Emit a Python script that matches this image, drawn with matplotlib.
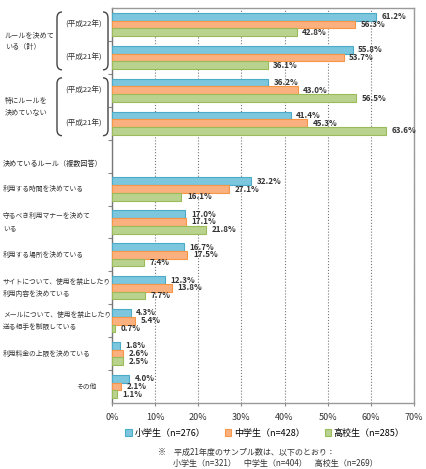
"""Mobile phone usage rules chart (bar chart with grouped categories)."""

import numpy as np
import matplotlib
matplotlib.use('Agg')
import matplotlib.pyplot as plt
from matplotlib.patches import Patch, PathPatch
from matplotlib.path import Path

plt.rcParams['font.family'] = ['Noto Sans CJK JP', 'DejaVu Sans']

# Rows top to bottom; row 4 is the section header (no bars)
row_labels = ['(平成22年)', '(平成21年)', '(平成22年)', '(平成21年)', '',
              '利用する時間を決めている',
              '守るべき利用マナーを決めて\nいる',
              '利用する場所を決めている',
              'サイトについて、使用を禁止したり\n利用内容を決めている',
              'メールについて、使用を禁止したり\n送る相手を制限している',
              '利用料金の上限を決めている',
              'その他']
elementary = [61.2, 55.8, 36.2, 41.4, None, 32.2, 17.0, 16.7, 12.3, 4.3, 1.8, 4.0]
junior_high = [56.3, 53.7, 43.0, 45.3, None, 27.1, 17.1, 17.5, 13.8, 5.4, 2.6, 2.1]
high_school = [42.8, 36.1, 56.5, 63.6, None, 16.1, 21.8, 7.4, 7.7, 0.7, 2.5, 1.1]
series_names = ['小学生（n=276）', '中学生（n=428）', '高校生（n=285）']
group_labels = ['ルールを決めて\nいる（計）', '特にルールを\n決めていない']
section_label = '決めているルール（複数回答）'
note_lines = ['※　平成21年度のサンプル数は、以下のとおり：',
              '小学生（n=321）　中学生（n=404）　高校生（n=269）']
xticks = [0, 10, 20, 30, 40, 50, 60, 70]

fills = ['#7cc6de', '#fbb17f', '#b9d38f']
edges = ['#4aacc6', '#f79646', '#9bbb59']

W, H = 427, 469
fig = plt.figure(figsize=(W / 100, H / 100), dpi=100)
ax = fig.add_axes([112 / W, 1 - 403 / H, 302 / W, 395 / H])

n = len(row_labels)
bh = 0.235
for k, vals in enumerate([elementary, junior_high, high_school]):
    for i, v in enumerate(vals):
        if v is None:
            continue
        y = i + (k - 1) * bh
        ax.barh(y, v, height=bh, color=fills[k], edgecolor=edges[k],
                linewidth=0.8, zorder=3)
        ax.annotate(f'{v:.1f}%', (v, y), xytext=(4, 0),
                    textcoords='offset points', va='center', ha='left',
                    fontsize=5.8, fontweight='bold', color='#333333')

ax.set_xlim(0, 70)
ax.set_ylim(n - 0.5, -0.5)
ax.set_xticks(xticks)
ax.set_xticklabels([f'{t}%' for t in xticks], fontsize=6.5, color='#333333')
ax.set_yticks(np.arange(n - 1) + 0.5)
ax.set_yticklabels([])
ax.tick_params(axis='y', length=3, color='#888888', width=0.8)
ax.tick_params(axis='x', length=2, color='#888888', pad=5)
ax.grid(axis='x', linestyle=':', color='#777777', linewidth=0.8, zorder=0)
for s in ax.spines.values():
    s.set_color('#999999')
    s.set_linewidth(1.0)
ax.spines['left'].set_color('#777777')

# overlay in pixel coordinates for the left labels and brackets
ov = fig.add_axes([0, 0, 1, 1], zorder=2)
ov.set_xlim(0, W)
ov.set_ylim(H, 0)
ov.axis('off')

fs = 4.9


def row_y(i):
    return 8 + 395 / n * (i + 0.5)


for i, lab in enumerate(row_labels):
    if i < 4:
        ov.text(65, row_y(i), lab, fontsize=5.5, va='center', ha='left',
                color='#333333')
    elif i == n - 1:
        ov.text(76, row_y(i), lab, fontsize=fs, va='center', ha='left',
                color='#333333')
    elif lab:
        ov.text(3, row_y(i), lab, fontsize=fs, va='center', ha='left',
                color='#333333', linespacing=1.7)

ov.text(3, 164, section_label, fontsize=5.1, va='center', ha='left',
        color='#222222')

for g, lab in enumerate(group_labels):
    top = 8 + 395 / n * (2 * g) + 4
    bot = top + 395 / n * 2 - 8
    ov.text(5, (top + bot) / 2, lab, fontsize=5.1, va='center', ha='left',
            color='#333333', linespacing=1.6)
    for x0, d in [(62, -1), (103, 1)]:
        verts = [(x0, top), (x0 + d * 5, top), (x0 + d * 5, top + 6),
                 (x0 + d * 5, bot - 6), (x0 + d * 5, bot), (x0, bot)]
        codes = [Path.MOVETO, Path.CURVE3, Path.CURVE3,
                 Path.LINETO, Path.CURVE3, Path.CURVE3]
        ov.add_patch(PathPatch(Path(verts, codes), fill=False,
                               edgecolor='#444444', linewidth=1.0))

handles = [Patch(facecolor=fills[k], edgecolor=edges[k], linewidth=0.8)
           for k in range(3)]
fig.legend(handles, series_names, loc='center', ncol=3,
           bbox_to_anchor=(265 / W, 1 - 433 / H), frameon=False,
           fontsize=6.5, handlelength=0.7, handleheight=0.7,
           handletextpad=0.3, columnspacing=2.2)

fig.text(158 / W, 1 - 452 / H, note_lines[0], fontsize=5.8, va='center',
         ha='left', color='#333333')
fig.text(173 / W, 1 - 463 / H, note_lines[1], fontsize=5.8, va='center',
         ha='left', color='#333333')

fig.savefig('out.png', dpi=100)
